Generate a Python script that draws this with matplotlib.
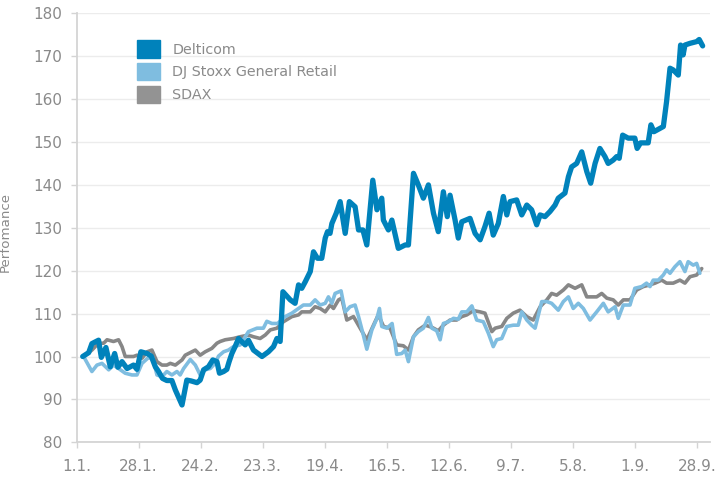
import matplotlib
matplotlib.use("Agg")
import matplotlib.pyplot as plt
from matplotlib.patches import Patch

# === DATA (day of year, performance indexed to 100) ===
delticom_day = [2.7, 5.3, 6.7, 9.6, 10.8, 12.8, 14.7, 16.6, 18.0, 19.8, 22.0, 24.8, 26.3, 28.0,
                30.7, 32.5, 34.3, 35.7, 37.4, 39.3, 41.5, 43.0, 45.9, 48.0, 49.9, 52.4, 53.8,
                55.3, 57.4, 59.3, 61.1, 62.2, 64.0, 65.4, 66.4, 67.6, 69.0, 70.5, 73.4, 74.8,
                77.0, 80.7, 83.5, 85.7, 87.2, 88.6, 89.8, 93.0, 95.1, 96.6, 98.0, 99.5, 101.7,
                103.1, 104.8, 106.7, 108.2, 109.2, 110.3, 111.1, 113.0, 114.7, 116.9, 118.7,
                121.2, 122.7, 124.6, 126.3, 128.9, 130.7, 132.8, 133.5, 135.7, 137.2, 140.0,
                143.0, 144.4, 146.6, 148.7, 150.9, 153.1, 155.3, 157.4, 159.6, 161.3, 162.5,
                164.7, 166.1, 167.6, 171.2, 173.4, 175.6, 177.7, 179.5, 181.3, 183.5, 185.7,
                187.2, 188.6, 191.5, 193.7, 195.9, 198.0, 200.2, 201.7, 203.8, 206.0, 208.2,
                209.6, 212.5, 214.0, 215.4, 217.6, 219.8, 222.0, 223.7, 225.6, 227.7, 229.9,
                231.3, 233.5, 235.0, 236.1, 237.6, 240.0, 242.9, 243.9, 245.4, 248.7, 249.9,
                251.2, 255.3, 256.7, 258.2, 259.6, 261.8, 262.8, 263.9, 264.7, 266.9, 269.8,
                270.9, 272.4]
delticom_val = [100, 100.9, 103, 103.8, 99.8, 102.1, 97.6, 100.7, 97.5, 98.8, 97.2, 98, 97, 101.1,
                100.7, 100.1, 97.6, 96.5, 94.9, 94.4, 94.4, 92.2, 88.7, 94.5, 94.3, 93.9, 94.5,
                96.9, 97.6, 99.2, 98.8, 96.1, 96.5, 97, 98.8, 100.7, 102.3, 104.2, 102.7, 103.8,
                101.5, 100.0, 101.1, 102.3, 104.2, 103.5, 115.1, 113.2, 112.4, 116.7, 115.9, 117.4, 119.8,
                124.4, 122.9, 122.9, 127.6, 129.1, 128.7, 131, 133.4, 136.1, 128.7, 136.1,
                134.9, 129.5, 129.5, 126, 141.1, 134.2, 136.9, 131.8, 129.5, 131.8, 125.2,
                126, 126, 142.7, 140, 136.9, 140, 133.4, 129.1, 138.4, 132.6, 137.6,
                131.8, 127.6, 131.4, 132.2, 128.7, 127.2, 130.3, 133.4, 128.3, 131, 137.3,
                133, 136.1, 136.5, 133, 135.3, 134.2, 130.7, 133, 132.6, 133.8, 135.3,
                136.9, 138.1, 141.9, 144.2, 145, 147.7, 143.1, 140.4, 145, 148.5, 146.6,
                145, 145.8, 146.6, 146.2, 151.6, 150.9, 150.9, 148.5, 149.8, 149.8, 154,
                152.4, 153.6, 159.4, 167.2, 166.8, 165.6, 172.6, 170.3, 172.6, 173, 173.4,
                173.9, 172.4]

stoxx_day = [3.1, 6.7, 8.9, 11.1, 14.0, 16.1, 18.3, 21.2, 24.1, 26.3, 28.5, 31.0, 33.1, 35.0,
             37.2, 39.3, 41.5, 43.7, 45.1, 46.6, 49.5, 51.7, 53.8, 56.0, 58.2, 60.3, 61.8,
             64.0, 66.1, 68.3, 71.2, 74.8, 78.5, 81.3, 82.8, 85.0, 87.5, 90.8, 93.7, 96.6,
             98.7, 101.7, 103.8, 106.0, 108.2, 109.6, 111.1, 112.5, 115.1, 116.9, 119.0,
             121.2, 122.7, 124.6, 126.3, 128.5, 130.7, 131.8, 132.8, 135.0, 137.3, 139.3,
             141.5, 143.0, 144.4, 146.6, 148.7, 150.9, 153.1, 154.6, 156.7, 158.2, 159.6,
             161.8, 164.0, 166.1, 167.6, 169.8, 172.0, 174.1, 177.0, 179.2, 181.3, 182.8,
             185.0, 187.2, 190.0, 192.2, 193.7, 195.9, 198.0, 199.5, 202.4, 204.6, 206.7,
             209.6, 211.8, 214.0, 216.1, 218.3, 220.5, 223.4, 226.3, 229.2, 231.3, 234.3,
             235.7, 237.9, 240.8, 242.9, 245.9, 248.0, 249.5, 250.9, 253.1, 255.3, 256.7,
             258.2, 260.3, 262.5, 264.7, 266.1, 268.3, 269.8, 271.2]
stoxx_val = [100, 96.5, 98, 98.4, 96.9, 98, 97.2, 96.1, 95.7, 95.7, 98.4, 99.6, 99.8, 95.7,
             95.3, 96.5, 95.7, 96.5, 95.7, 97.2, 99.3, 98, 95.7, 96.9, 97.2, 98.4, 100.1,
             101.1, 101.5, 102.3, 102.7, 105.8, 106.6, 106.6, 108.2, 107.7, 107.7, 109.3, 110.1, 111.2,
             112, 112, 113.2, 112, 112.4, 113.9, 112.4, 114.7, 115.3, 110.4, 111.6,
             112, 109.3, 105.4, 101.7, 106.2, 108.9, 111.2, 107, 106.6, 107.7, 100.5,
             100.7, 101.5, 98.8, 104.6, 105.8, 106.6, 109.1, 106.6, 106, 103.9, 107.7,
             108.1, 108.9, 108.7, 110.4, 110.4, 111.8, 108.5, 108.1, 105.4, 102.3, 103.9,
             104.2, 107, 107.3, 107.3, 110.4, 108.5, 107.3, 106.6, 112.8, 112.8, 112.4,
             110.8, 112.8, 113.9, 111.2, 112.4, 111.2, 108.5, 110.4, 112.4, 110.4, 111.6,
             108.9, 112, 112, 115.9, 116.3, 117.1, 116.3, 117.8, 117.8, 119, 120.2,
             119.4, 120.9, 122.1, 119.8, 122.1, 121.3, 121.7, 119.4]

sdax_day = [3.1, 6.7, 9.6, 11.8, 13.3, 16.1, 18.3, 19.8, 21.2, 24.8, 26.3, 28.5, 30.7, 32.8,
            35.0, 37.2, 39.3, 40.8, 43.0, 45.9, 47.3, 50.2, 51.7, 53.8, 56.0, 58.9, 61.1,
            62.5, 64.7, 68.3, 71.2, 74.8, 77.0, 79.9, 82.1, 84.3, 87.2, 90.0, 93.7, 96.6,
            98.0, 101.7, 103.8, 106.0, 108.2, 110.4, 111.8, 114.0, 115.4, 117.6, 120.5,
            123.4, 126.3, 129.2, 131.3, 133.6, 136.4, 139.3, 142.2, 144.4, 146.6, 148.7,
            151.7, 154.6, 157.4, 159.6, 162.5, 165.4, 167.6, 169.8, 172.7, 175.6, 177.7,
            180.7, 182.1, 185.0, 187.2, 190.0, 192.9, 195.9, 198.7, 201.7, 204.6, 206.7,
            208.9, 211.8, 214.0, 216.9, 219.8, 222.0, 226.3, 228.5, 230.7, 233.5, 235.7,
            237.9, 240.8, 243.7, 246.6, 249.5, 251.7, 254.6, 256.7, 259.6, 262.5, 264.7,
            266.9, 269.8, 272.0]
sdax_val = [100, 101.5, 103.1, 103.1, 103.9, 103.5, 103.9, 102.3, 100, 100, 100.3, 99.6, 101.1, 101.5,
            98.8, 98, 98, 98.4, 98, 99.2, 100.3, 101.1, 101.5, 100.3, 101.1, 101.9, 103.1,
            103.5, 103.9, 104.2, 104.6, 105, 104.6, 104.2, 105, 106.2, 106.6, 108.1, 109.3, 109.7,
            110.4, 110.4, 111.6, 111.2, 110.4, 112, 111.2, 113.2, 113.6, 108.5, 109.3,
            106.6, 103.9, 107.3, 109.7, 107, 106.6, 102.7, 102.5, 101.5, 104.6, 106.2,
            107.3, 106.8, 106, 107.3, 108.5, 108.5, 109.3, 109.7, 110.7, 110.4, 110.1,
            105.8, 106.6, 107, 108.9, 110.1, 110.8, 109.3, 108.5, 111.6, 113.2, 114.7,
            114.3, 115.5, 116.7, 115.9, 116.7, 113.9, 113.9, 114.7, 113.6, 113.2, 112,
            113.2, 113.2, 115.5, 116.3, 116.7, 117.1, 117.8, 117.1, 117.1, 117.8, 117.1,
            118.6, 119, 120.5]

tick_days = [0, 27, 54, 81, 108, 135, 162, 189, 216, 243, 270]
tick_labels = ["1.1.", "28.1.", "24.2.", "23.3.", "19.4.", "16.5.", "12.6.",
               "9.7.", "5.8.", "1.9.", "28.9."]

# === COLORS ===
C_DELTI = "#0082bb"
C_STOXX = "#7fbde0"
C_SDAX = "#878787"
TXT = "#8a8a8a"

plt.rcParams['font.family'] = ['DejaVu Sans']

fig = plt.figure(figsize=(7.17, 4.79), dpi=100)
ax = fig.add_axes([76.5 / 717, 1 - 442.3 / 479, (710 - 76.5) / 717, (442.3 - 13.3) / 479])

ax.plot(sdax_day, sdax_val, color=C_SDAX, lw=2.6, solid_joinstyle="round", solid_capstyle="round", zorder=3)
ax.plot(stoxx_day, stoxx_val, color=C_STOXX, lw=2.6, solid_joinstyle="round", solid_capstyle="round", zorder=4)
ax.plot(delticom_day, delticom_val, color=C_DELTI, lw=3.8, solid_joinstyle="round", solid_capstyle="round", zorder=5)

ax.set_xlim(0, 275.6)
ax.set_ylim(80, 180)
ax.set_yticks(range(80, 181, 10))
ax.set_xticks(tick_days)
ax.set_xticklabels(tick_labels)
ax.grid(axis="y", color="#ececec", lw=1.0, zorder=0)
ax.set_axisbelow(True)

for s in ["top", "right"]:
    ax.spines[s].set_visible(False)
for s in ["left", "bottom"]:
    ax.spines[s].set_color("#d4d4d4")
    ax.spines[s].set_linewidth(1.3)

ax.tick_params(axis="both", colors="#d4d4d4", labelcolor=TXT, labelsize=11, length=4, width=1)
ax.tick_params(axis="y", pad=6)
ax.tick_params(axis="x", pad=8)
ax.set_ylabel("Perfomance", color=TXT, fontsize=9.6)
ax.yaxis.set_label_coords(-0.102, 0.49)

handles = [Patch(color=C_DELTI), Patch(color=C_STOXX), Patch(color="#939393")]
leg = ax.legend(handles, ["Delticom", "DJ Stoxx General Retail", "SDAX"],
                loc="upper left", bbox_to_anchor=(0.095, 0.937), frameon=False,
                fontsize=10.3, handlelength=1.6, handleheight=1.47, labelspacing=0.38,
                handletextpad=0.9, borderpad=0, borderaxespad=0)
for t in leg.get_texts():
    t.set_color(TXT)

fig.savefig("out.png", dpi=100)
